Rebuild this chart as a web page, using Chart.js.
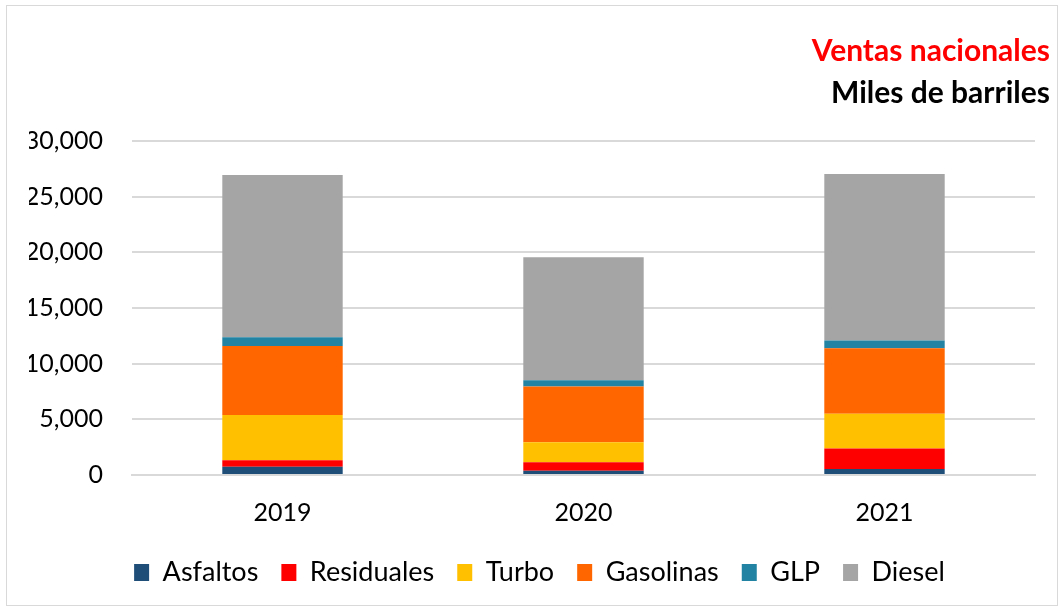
<!DOCTYPE html>
<html>
<head>
<meta charset="utf-8">
<script src="https://cdn.jsdelivr.net/npm/chart.js@4"></script>
<style>
  body { margin: 0; background: #fff; }
  #wrap { position: absolute; left: 6px; top: 5px; width: 1052px; height: 601px; border: 1px solid #d9d9d9; box-sizing: border-box; }
  #myChart { position: absolute; left: 0; top: 0; }
</style>
</head>
<body>
<div id="wrap"><canvas id="myChart" width="1050" height="599"></canvas></div>
<script>
// data block
var years = ['2019', '2020', '2021'];
var asfaltos = [750, 390, 540];
var residuales = [570, 750, 1830];
var turbo = [4060, 1810, 3130];
var gasolinas = [6210, 5000, 5880];
var glp = [780, 550, 690];
var diesel = [14570, 11050, 14960];

var fontFam = 'Lato, "Open Sans", sans-serif';

var data = {
    labels: years,
    datasets: [
        { label: 'Asfaltos', data: asfaltos, backgroundColor: '#1f4e79' },
        { label: 'Residuales', data: residuales, backgroundColor: '#ff0000' },
        { label: 'Turbo', data: turbo, backgroundColor: '#ffc000' },
        { label: 'Gasolinas', data: gasolinas, backgroundColor: '#ff6600' },
        { label: 'GLP', data: glp, backgroundColor: '#2383a3' },
        { label: 'Diesel', data: diesel, backgroundColor: '#a5a5a5' }
    ]
};

// config block
var myCrt = document.getElementById('myChart');
var ventasChart = new Chart(myCrt, {
    type: 'bar',
    data,
    options: {
        responsive: false,
        animation: false,
        barPercentage: 0.4,
        categoryPercentage: 1,
        layout: { padding: { left: 22, right: 7, top: 27, bottom: 9 } },
        plugins: {
            title: {
                display: true,
                text: 'Ventas nacionales',
                align: 'end',
                color: '#ff0000',
                font: { family: fontFam, size: 30, weight: 'bold' },
                padding: { top: 0, bottom: 6 }
            },
            subtitle: {
                display: true,
                text: 'Miles de barriles',
                align: 'end',
                color: '#000',
                font: { family: fontFam, size: 30, weight: 'bold' },
                padding: { top: 0, bottom: 30 }
            },
            legend: {
                position: 'bottom',
                labels: {
                    color: '#000',
                    font: { family: fontFam, size: 27 },
                    boxWidth: 15,
                    boxHeight: 17,
                    padding: 23
                }
            },
            tooltip: { enabled: false }
        },
        scales: {
            x: {
                stacked: true,
                grid: { display: false },
                border: { color: '#d9d9d9', width: 2 },
                ticks: { color: '#000', font: { family: fontFam, size: 25 }, padding: 15 },
                afterFit: s => { s.height = s.height - 7; }
            },
            y: {
                stacked: true,
                min: 0,
                max: 30000,
                border: { display: false },
                grid: { color: '#d9d9d9', lineWidth: 2, drawTicks: false },
                ticks: {
                    stepSize: 5000,
                    color: '#000',
                    padding: 29,
                    font: { family: fontFam, size: 25 },
                    callback: v => v.toLocaleString('en-US')
                },
                afterFit: s => { s.width = 103; }
            },
            // empty right axis, only keeps the plot off the right edge
            yRight: {
                position: 'right',
                display: true,
                grid: { display: false },
                border: { display: false },
                ticks: { display: false },
                afterFit: s => { s.width = 15; }
            }
        }
    }
});
</script>
</body>
</html>
